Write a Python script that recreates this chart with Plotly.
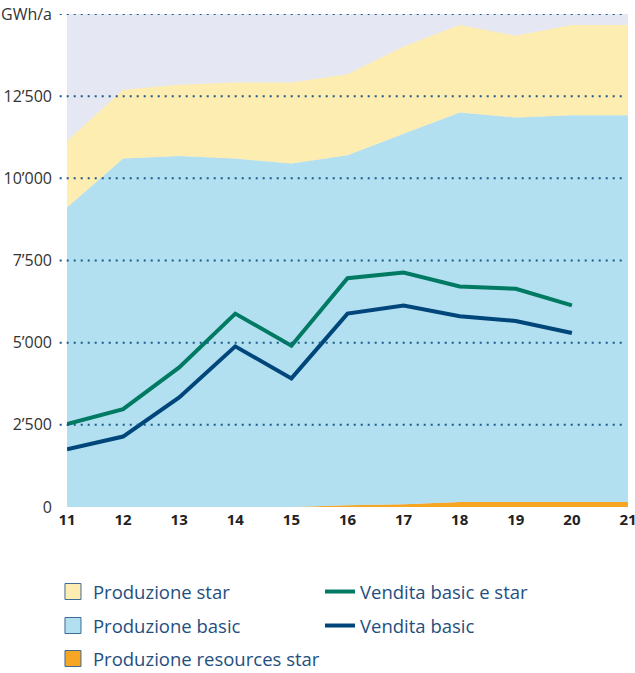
import plotly.graph_objects as go

years = [11, 12, 13, 14, 15, 16, 17, 18, 19, 20, 21]
prod_resources_star = [0, 0, 0, 0, 0, 50, 80, 150, 150, 150, 150]
prod_basic = [9116, 10600, 10680, 10600, 10448, 10650, 11280, 11850, 11700, 11770, 11770]
prod_star = [2021, 2092, 2165, 2317, 2469, 2470, 2653, 2662, 2488, 2744, 2744]

sale_years = [11, 12, 13, 14, 15, 16, 17, 18, 19, 20]
vendita_basic_star = [2521, 2979, 4247, 5884, 4909, 6961, 7134, 6707, 6637, 6137]
vendita_basic = [1759, 2144, 3332, 4888, 3912, 5884, 6128, 5802, 5661, 5296]

ytick_vals = [0, 2500, 5000, 7500, 10000, 12500, 15000]
ytick_text = ["0", "2’500", "5’000", "7’500", "10’000", "12’500", "GWh/a"]

C_STAR = "#fdedb0"
C_BASIC = "#b2e0f0"
C_RES = "#f6a623"
C_GREEN = "#007a62"
C_DARK = "#00467a"
C_BG = "#e5e8f3"
C_GRID = "#1d5a8a"
C_TEXT = "#1f4f80"

fig = go.Figure()

# stacked areas
fig.add_trace(go.Scatter(x=years, y=prod_resources_star, stackgroup="p", mode="none",
                         fillcolor=C_RES, showlegend=False, name="Produzione resources star"))
fig.add_trace(go.Scatter(x=years, y=prod_basic, stackgroup="p", mode="none",
                         fillcolor=C_BASIC, showlegend=False, name="Produzione basic"))
fig.add_trace(go.Scatter(x=years, y=prod_star, stackgroup="p", mode="none",
                         fillcolor=C_STAR, showlegend=False, name="Produzione star"))

# lines
fig.add_trace(go.Scatter(x=sale_years, y=vendita_basic_star, mode="lines",
                         line=dict(color=C_GREEN, width=4), name="Vendita basic e star",
                         legend="legend", legendrank=2))
fig.add_trace(go.Scatter(x=sale_years, y=vendita_basic, mode="lines",
                         line=dict(color=C_DARK, width=4), name="Vendita basic",
                         legend="legend2", legendrank=2))

# legend square markers for areas
for nm, col, lg in [("Produzione star", C_STAR, "legend"),
                    ("Produzione basic", C_BASIC, "legend2"),
                    ("Produzione resources star", C_RES, "legend3")]:
    fig.add_trace(go.Scatter(x=[None], y=[None], mode="markers", name=nm, legend=lg,
                             legendrank=1,
                             marker=dict(symbol="square", size=20, color=col,
                                         line=dict(color="#3d6b94", width=1))))

# dotted gridlines above the areas
for v in ytick_vals[1:]:
    fig.add_shape(type="line", xref="paper", yref="y", x0=-0.013, x1=0.995, y0=v, y1=v,
                  line=dict(color=C_GRID, width=2, dash="2px,5px"), layer="above")

plot_top, plot_bottom = 14, 507
ph = plot_bottom - plot_top


def leg(center_px):
    return dict(orientation="h", x=-0.025, xanchor="left",
                y=(plot_bottom - center_px) / ph, yanchor="middle",
                entrywidth=222, entrywidthmode="pixels", traceorder="normal",
                font=dict(size=18.5, color=C_TEXT), itemwidth=30,
                bgcolor="rgba(0,0,0,0)")


fig.update_layout(
    width=635, height=673,
    margin=dict(l=67, r=7, t=plot_top, b=673 - plot_bottom, autoexpand=False),
    paper_bgcolor="white", plot_bgcolor=C_BG,
    font=dict(family="Open Sans", color="#333333"),
    xaxis=dict(range=[11, 21], tickvals=years, ticktext=[f"<b>{y}</b>" for y in years],
               showgrid=False, zeroline=False, showline=False, ticks="",
               ticklabelstandoff=2, ticklabeloverflow="allow",
               tickfont=dict(size=15, color="#222222"), fixedrange=True),
    yaxis=dict(range=[0, 15000], tickvals=ytick_vals, ticktext=ytick_text,
               showgrid=False, zeroline=False, showline=False, ticks="",
               ticklabelstandoff=14,
               tickfont=dict(size=16, color="#333333"), fixedrange=True),
    legend=leg(592),
    legend2=leg(626),
    legend3=leg(659),
    showlegend=True,
)

fig.write_html("out.html", config={"displayModeBar": False},
               post_script="document.body.style.margin='0';")
